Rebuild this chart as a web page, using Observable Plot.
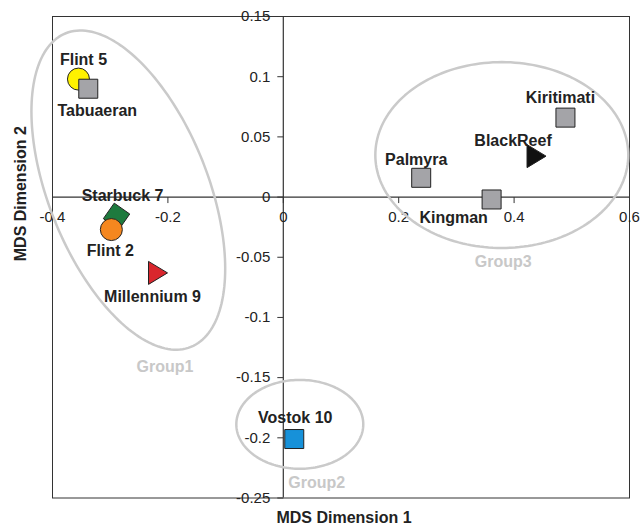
<!DOCTYPE html>
<html><head><meta charset="utf-8">
<script src="https://cdn.jsdelivr.net/npm/d3@7"></script>
<script src="https://cdn.jsdelivr.net/npm/@observablehq/plot@0.6"></script>
<style>body{margin:0;background:#fff} #chart{width:643px;height:530px}</style>
</head><body><div id="chart"></div>
<script>
// ---- data ----
const sites = ["Flint 5","Tabuaeran","Starbuck 7","Flint 2","Millennium 9","Kiritimati","BlackReef","Palmyra","Kingman","Vostok 10"];
const dim1  = [-0.355, -0.338, -0.289, -0.298, -0.218, 0.489, 0.438, 0.239, 0.361, 0.019];
const dim2  = [ 0.098,  0.090, -0.016, -0.027, -0.063, 0.066, 0.034, 0.016, -0.002, -0.201];
const shapes = ["circle","square","diamond","circle","triangle","square","triangle","square","square","square"];
const fills  = ["#fff200","#a4a4a8","#1e7a3e","#f5871f","#d9262d","#a4a4a8","#111111","#a4a4a8","#a4a4a8","#1791d9"];
const labelDx = [5, 9, 6, -1, -5, -5, -23, -5, -38, 1];
const labelDy = [-19, 22, -20, 21, 24, -20, -15, -18, 18, -21];

const xTicks = [-0.4, -0.2, 0, 0.2, 0.4, 0.6];
const yTicks = [0.15, 0.1, 0.05, 0, -0.05, -0.1, -0.15, -0.2, -0.25];

const groups  = ["Group1", "Group2", "Group3"];
const groupCx = [-0.2686, 0.0286, 0.3787];
const groupCy = [ 0.0058, -0.1888, 0.0349];
const groupUx = [ 0.1083, 0.110, 0.2192];
const groupUy = [-0.1303, 0, 0];
const groupVx = [-0.1283, 0, 0];
const groupVy = [-0.0245, 0.0369, 0.0772];
const groupLabelDx = [-11, 17, 1.5];
const groupLabelDy = [17, 14, 14];

// ---- build tables ----
const points = sites.map((s, i) => ({site: s, x: dim1[i], y: dim2[i], shape: shapes[i], fill: fills[i], dx: labelDx[i], dy: labelDy[i]}));

const ellipsePts = [];
const groupLabels = [];
groups.forEach((g, i) => {
  const N = 180;
  for (let k = 0; k <= N; k++) {
    const t = 2 * Math.PI * k / N;
    ellipsePts.push({group: g,
      x: groupCx[i] + groupUx[i] * Math.cos(t) + groupVx[i] * Math.sin(t),
      y: groupCy[i] + groupUy[i] * Math.cos(t) + groupVy[i] * Math.sin(t)});
  }
  const n = Math.hypot(groupUy[i], groupVy[i]);
  groupLabels.push({group: g,
    x: groupCx[i] - (groupUx[i] * groupUy[i] + groupVx[i] * groupVy[i]) / n,
    y: groupCy[i] - n, dx: groupLabelDx[i], dy: groupLabelDy[i]});
});

// ---- symbols ----
const symSquare = {draw(c) { c.rect(-9.5, -9.5, 19, 19); }};
const symCircle = {draw(c) { c.moveTo(11, 0); c.arc(0, 0, 11, 0, 2 * Math.PI); c.closePath(); }};
const symTri = {draw(c) { c.moveTo(-9, -11.5); c.lineTo(10, 0); c.lineTo(-9, 11.5); c.closePath(); }};
const symDiamond = {draw(c) {
  const r = 13.4, a0 = -100 * Math.PI / 180;
  for (let k = 0; k < 4; k++) {
    const a = a0 + k * Math.PI / 2;
    if (k === 0) c.moveTo(r * Math.cos(a), r * Math.sin(a)); else c.lineTo(r * Math.cos(a), r * Math.sin(a));
  }
  c.closePath();
}};
const symOf = {square: symSquare, circle: symCircle, triangle: symTri, diamond: symDiamond};
const yTickSym = {draw(c) { c.moveTo(-6, 0); c.lineTo(0, 0); }};
const xTickSym = {draw(c) { c.moveTo(0, 0); c.lineTo(0, 6); }};

const FONT = "Liberation Sans, Arial, Helvetica, sans-serif";
const INK = "#333";
const LFS = 16;

const chart = Plot.plot({
  width: 643, height: 530,
  marginLeft: 52, marginRight: 14, marginTop: 16, marginBottom: 32.5,
  style: {fontFamily: FONT, background: "#fff"},
  x: {domain: [-0.4, 0.6], axis: null},
  y: {domain: [-0.25, 0.15], axis: null},
  marks: [
    Plot.frame({stroke: INK, strokeWidth: 1}),
    Plot.ruleX([0], {stroke: INK, strokeWidth: 1.2}),
    Plot.ruleY([0], {stroke: INK, strokeWidth: 1.2}),
    Plot.dot(yTicks, {x: 0, y: d => d, symbol: yTickSym, stroke: INK, fill: "none", strokeWidth: 1}),
    Plot.dot(xTicks, {x: d => d, y: 0, symbol: xTickSym, stroke: INK, fill: "none", strokeWidth: 1}),
    Plot.text(yTicks, {x: 0, y: d => d, text: d => String(d), textAnchor: "end", dx: -13, fontSize: 15, fill: "#222"}),
    Plot.text(xTicks, {x: d => d, y: 0, text: d => String(d), dy: 20, fontSize: 15, fill: "#222"}),
    Plot.line(ellipsePts, {x: "x", y: "y", z: "group", stroke: "#cacaca", strokeWidth: 2.5}),
    ...groupLabels.map(g => Plot.text([g], {x: "x", y: "y", text: "group", dx: g.dx, dy: g.dy, fontSize: LFS, fontWeight: "bold", fill: "#c8c8c8"})),
    ...points.map(p => Plot.dot([p], {x: "x", y: "y", symbol: symOf[p.shape], fill: p.fill, stroke: "#222", strokeWidth: 1})),
    ...points.map(p => Plot.text([p], {x: "x", y: "y", text: "site", dx: p.dx, dy: p.dy, fontSize: LFS, fontWeight: "bold", fill: "#222"})),
    Plot.text(["MDS Dimension 1"], {frameAnchor: "bottom", dx: 3, dy: 25, fontSize: LFS, fontWeight: "bold", fill: "#222"}),
    Plot.text(["MDS Dimension 2"], {frameAnchor: "left", rotate: -90, dx: -32, dy: 4, fontSize: LFS, fontWeight: "bold", fill: "#222"})
  ]
});
document.getElementById("chart").appendChild(chart);
</script>
</body></html>
